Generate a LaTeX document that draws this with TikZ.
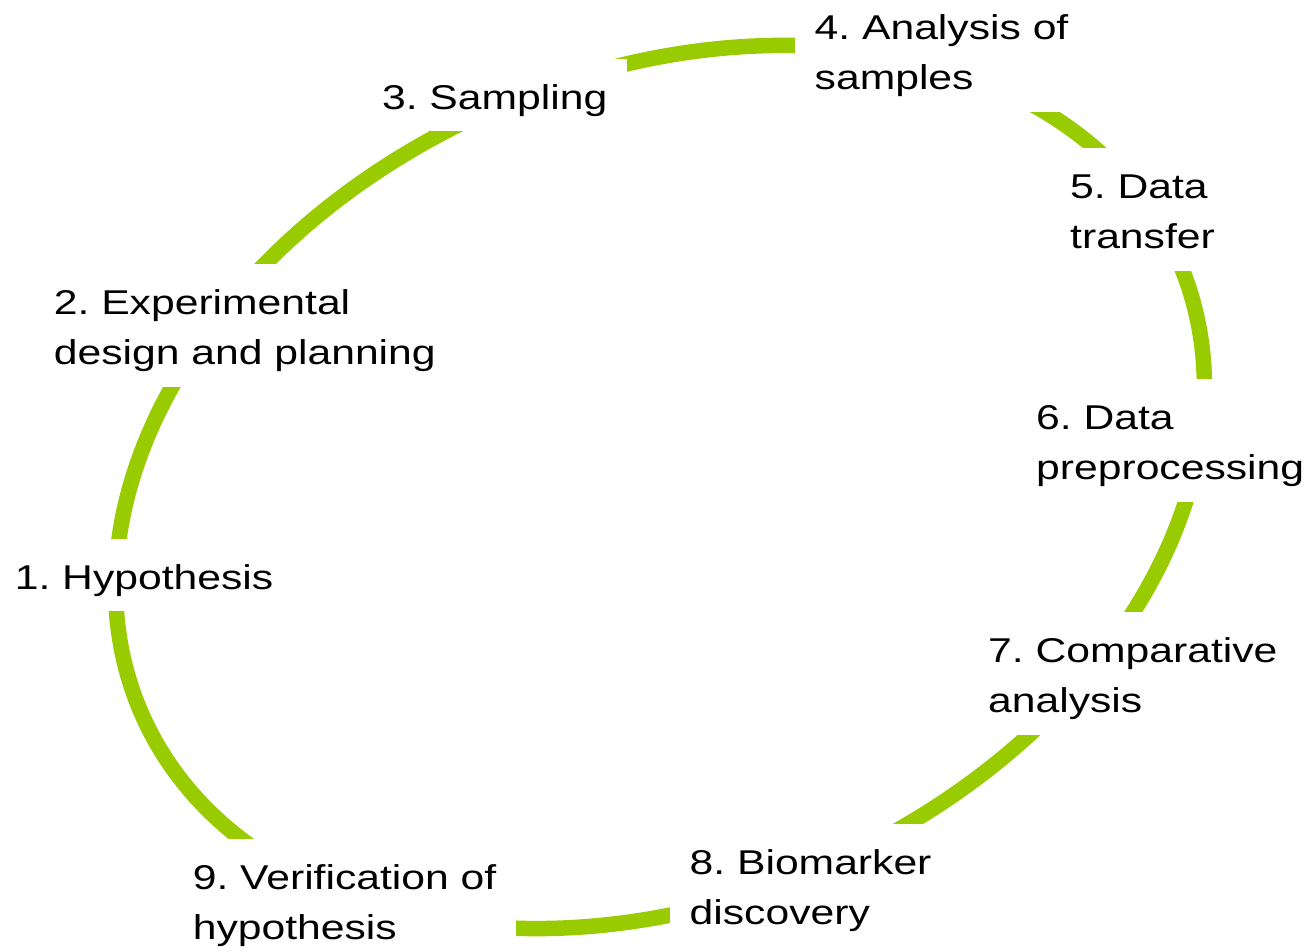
\documentclass[tikz,border=0pt]{standalone}
\usepackage{fontspec}
\setmainfont{Liberation Sans}[FakeStretch=1.24]
\frenchspacing
\definecolor{ringgreen}{RGB}{153,204,0}
% two stacked lines with a fixed baseline distance; the box baseline is the last line
\newcommand\twoline[2]{\vbox{\baselineskip=50pt\lineskiplimit=-1000pt\hbox{#1}\hbox{#2}}}
\begin{document}
\begin{tikzpicture}[x=1pt,y=1pt,
  stage/.style={fill=white, inner xsep=19.5pt, inner ysep=0pt,
                font=\fontsize{34.4}{50}\selectfont\frenchspacing},
  oneline/.style={stage, text height=50.7pt, text depth=21pt},
  twolines/.style={stage, text height=101pt, text depth=22pt},
  ring/.style={draw=ringgreen, line width=15.5pt}]
\useasboundingbox (0,0) rectangle (1310,952);

% the cycle ring; the white label boxes drawn afterwards cut it into arcs
\draw[ring, rotate around={23.6:(660,465)}]
  (660,465) ellipse [x radius=565.8pt, y radius=413.6pt];

% the nine stages
\node[oneline,  anchor=base west] (s1) at (-4.85,362) {1. Hypothesis};
\node[twolines, anchor=base west] (s2) at (34.2,587)  {\twoline{2. Experimental}{design and planning}};
\node[oneline,  anchor=base east] (s3) at (627,842)   {3. Sampling};
\node[twolines, anchor=base west] (s4) at (795,862)   {\twoline{4. Analysis of}{samples}};
\node[twolines, anchor=base west] (s5) at (1050.5,703) {\twoline{5. Data}{transfer}};
\node[twolines, anchor=base west] (s6) at (1016.5,472) {\twoline{6. Data}{preprocessing}};
\node[twolines, anchor=base west] (s7) at (968.5,239)  {\twoline{7. Comparative}{analysis}};
\node[twolines, anchor=base west] (s8) at (670,27)     {\twoline{8. Biomarker}{discovery}};
\node[twolines, anchor=base east] (s9) at (516,12)     {\twoline{9. Verification of}{hypothesis}};
\end{tikzpicture}
\end{document}
